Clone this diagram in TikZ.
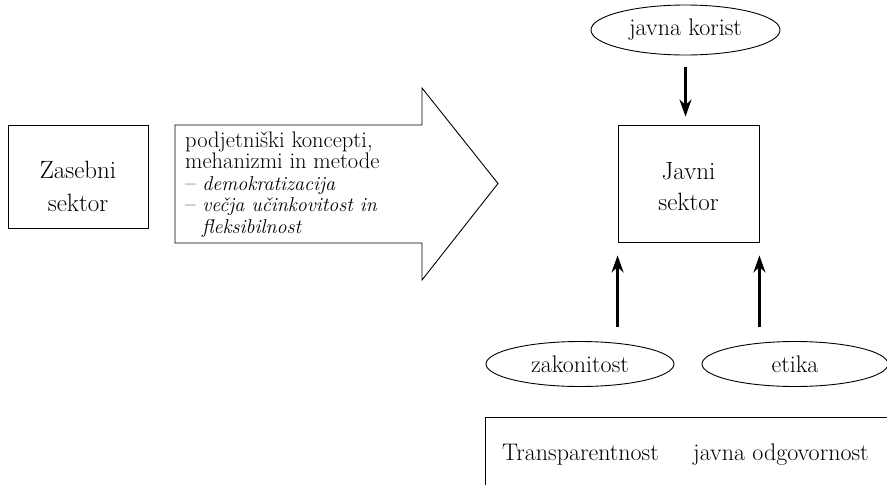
\documentclass[tikz,border=0pt]{standalone}
\usepackage{fontspec}
\usetikzlibrary{shapes.geometric,arrows.meta}
\begin{document}
\begin{tikzpicture}[x=1pt,y=-1pt,
  txt/.style={font=\fontsize{24}{33}\selectfont},
  boxnode/.style={draw,line width=0.9pt,inner sep=0pt},
  ell/.style={draw,ellipse,line width=0.9pt,inner sep=0pt,txt},
  arr/.style={line width=2.6pt,-{Stealth[length=17pt,width=12pt]}}]
\useasboundingbox (0,0) rectangle (887,485);
\node[boxnode,minimum width=140pt,minimum height=103pt] (zas) at (78,176.5) {};
\node[txt,align=center,inner sep=0pt,font=\fontsize{25}{33}\selectfont] (zast) at ([yshift=-10pt]zas.center) {Zasebni\\sektor};
\node[boxnode,minimum width=141pt,minimum height=117pt] (jav) at (688.5,183.5) {};
\node[txt,align=center,inner sep=0pt,font=\fontsize{25}{31}\selectfont] (javt) at ([yshift=-3pt]jav.center) {Javni\\sektor};
\node[ell,minimum width=189pt,minimum height=50pt] (kor) at (685.5,30) {javna korist};
\node[ell,minimum width=188pt,minimum height=45pt] (zak) at (580,364) {zakonitost};
\node[ell,minimum width=186pt,minimum height=45pt] (eti) at (795,364) {etika};
% big arrow
\draw[line width=0.9pt] (175,125) -- (422,125) -- (422,88) -- (498,183.5) -- (422,280) -- (422,243) -- (175,243) -- cycle;
\node[anchor=base west,align=left,inner sep=0pt,font=\fontsize{22.5}{21.5}\selectfont] (atext) at (185,233)
  {podjetniški koncepti,\\mehanizmi in metode\\– {\fontsize{20}{21.5}\selectfont\itshape demokratizacija}\\– {\fontsize{20}{21.5}\selectfont\itshape večja učinkovitost in}\\\hspace*{17pt}{\fontsize{20}{21.5}\selectfont\itshape fleksibilnost}};
% arrows
\draw[arr,shorten <=12pt,shorten >=8pt] (kor.south) -- (kor.south |- jav.north);
\coordinate (zt) at (zak.north -| jav.south west);
\coordinate (et) at (eti.north -| jav.south east);
\draw[arr,shorten <=14pt,shorten >=13pt] (zt) -- (jav.south west);
\draw[arr,shorten <=14pt,shorten >=13pt] (et) -- (jav.south east);
% bottom box
\coordinate (bb) at (485,485);
\coordinate (br) at (887,417);
\draw[line width=0.9pt] (br) -- (485,417) -- (bb);
\node[txt,anchor=base west,inner sep=0pt] (tr) at (502,460) {Transparentnost};
\node[txt,anchor=base west,inner sep=0pt] (odg) at (693,460) {javna odgovornost};
\end{tikzpicture}
\end{document}
